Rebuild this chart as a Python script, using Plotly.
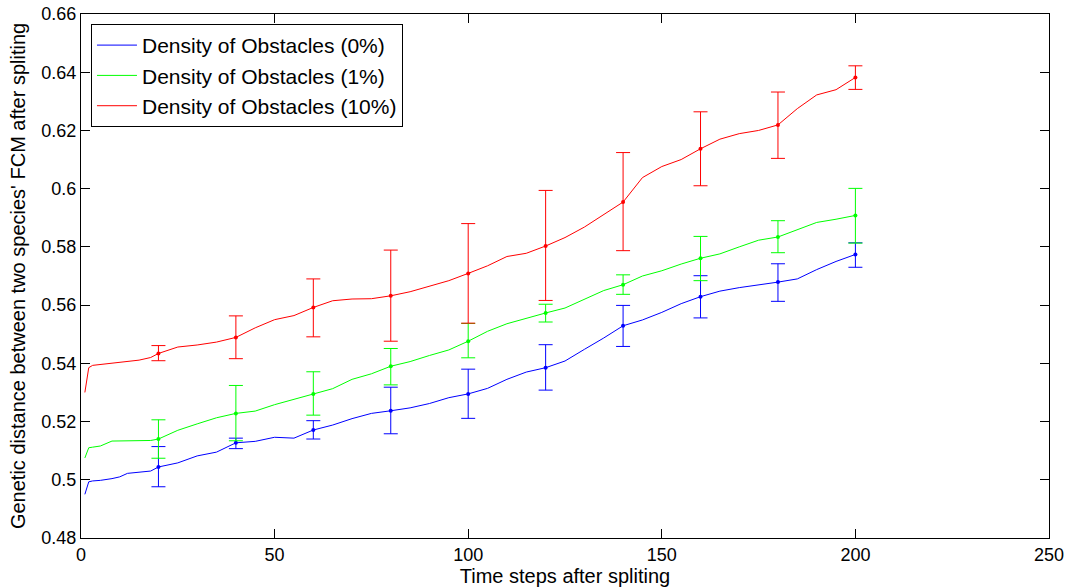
import plotly.graph_objects as go

# Time steps at which the mean genetic distance is sampled
steps = [1, 2, 3, 5, 8, 10, 12, 15, 18, 20, 25, 30, 35, 40, 45, 50, 55, 60, 65, 70,
         75, 80, 85, 90, 95, 100, 105, 110, 115, 120, 125, 130, 135, 140, 145, 150,
         155, 160, 165, 170, 175, 180, 185, 190, 195, 200]

dist_0 = [0.4950, 0.4993, 0.4996, 0.4998, 0.5004, 0.5010, 0.5022, 0.5025, 0.5030, 0.5044,
          0.5058, 0.5082, 0.5095, 0.5127, 0.5132, 0.5146, 0.5143, 0.5171, 0.5188, 0.5210,
          0.5228, 0.5237, 0.5247, 0.5262, 0.5282, 0.5295, 0.5314, 0.5345, 0.5370, 0.5385,
          0.5408, 0.5448, 0.5487, 0.5529, 0.5549, 0.5575, 0.5605, 0.5629, 0.5648, 0.5660,
          0.5669, 0.5679, 0.5690, 0.5722, 0.5750, 0.5774]

dist_1 = [0.5075, 0.5110, 0.5112, 0.5116, 0.5133, 0.5133, 0.5133, 0.5134, 0.5135, 0.5140,
          0.5170, 0.5192, 0.5213, 0.5228, 0.5236, 0.5258, 0.5277, 0.5295, 0.5313, 0.5345,
          0.5364, 0.5390, 0.5406, 0.5427, 0.5446, 0.5476, 0.5510, 0.5536, 0.5555, 0.5573,
          0.5590, 0.5620, 0.5650, 0.5670, 0.5700, 0.5718, 0.5741, 0.5761, 0.5776, 0.5800,
          0.5823, 0.5834, 0.5859, 0.5884, 0.5895, 0.5908]

dist_10 = [0.5300, 0.5385, 0.5393, 0.5396, 0.5399, 0.5402, 0.5405, 0.5411, 0.5420, 0.5434,
           0.5456, 0.5463, 0.5473, 0.5489, 0.5522, 0.5550, 0.5564, 0.5592, 0.5615, 0.5621,
           0.5622, 0.5632, 0.5646, 0.5665, 0.5684, 0.5709, 0.5735, 0.5767, 0.5778, 0.5803,
           0.5832, 0.5868, 0.5910, 0.5954, 0.6038, 0.6076, 0.6100, 0.6137, 0.6170, 0.6189,
           0.6200, 0.6219, 0.6275, 0.6322, 0.6340, 0.6382]

# Steps carrying error bars, with the upper and lower bar ends
bar_steps = [20, 40, 60, 80, 100, 120, 140, 160, 180, 200]

upper_0 = [0.5114, 0.5143, 0.5203, 0.5318, 0.5380, 0.5464, 0.5599, 0.5701, 0.5742, 0.5814]
lower_0 = [0.4976, 0.5107, 0.5140, 0.5158, 0.5211, 0.5308, 0.5458, 0.5556, 0.5613, 0.5730]

upper_1 = [0.5206, 0.5324, 0.5371, 0.5451, 0.5537, 0.5603, 0.5704, 0.5836, 0.5890, 0.6001]
lower_1 = [0.5074, 0.5134, 0.5222, 0.5326, 0.5419, 0.5542, 0.5637, 0.5684, 0.5780, 0.5813]

upper_10 = [0.5461, 0.5563, 0.5690, 0.5789, 0.5880, 0.5994, 0.6124, 0.6264, 0.6332, 0.6422]
lower_10 = [0.5409, 0.5416, 0.5491, 0.5476, 0.5538, 0.5616, 0.5787, 0.6010, 0.6104, 0.6341]

series = [
    ("Density of Obstacles (0%)", "#0000FF", dist_0, upper_0, lower_0),
    ("Density of Obstacles (1%)", "#00FF00", dist_1, upper_1, lower_1),
    ("Density of Obstacles (10%)", "#FF0000", dist_10, upper_10, lower_10),
]

FONT = "Liberation Sans, Arial, sans-serif"

fig = go.Figure()

for name, color, values, upper, lower in series:
    fig.add_trace(go.Scatter(
        x=steps, y=values, mode="lines", name=name,
        line=dict(color=color, width=1),
    ))
    lookup = dict(zip(steps, values))
    means = [lookup[s] for s in bar_steps]
    fig.add_trace(go.Scatter(
        x=bar_steps, y=means, mode="markers", showlegend=False,
        marker=dict(color=color, size=4),
        error_y=dict(
            type="data", symmetric=False,
            array=[u - m for u, m in zip(upper, means)],
            arrayminus=[m - l for m, l in zip(means, lower)],
            color=color, thickness=1, width=7,
        ),
    ))

axis_common = dict(
    showline=True, linecolor="#000000", linewidth=1, mirror="ticks",
    ticks="inside", ticklen=9, tickcolor="#000000",
    showgrid=False, zeroline=False, automargin=False,
    tickfont=dict(family=FONT, size=18, color="#000000"),
)

fig.update_layout(
    width=1073, height=588,
    margin=dict(l=81, r=24, t=14, b=50),
    paper_bgcolor="#FFFFFF", plot_bgcolor="#FFFFFF",
    font=dict(family=FONT, color="#000000"),
    xaxis=dict(
        range=[0, 250], tickvals=[0, 50, 100, 150, 200, 250],
        title=dict(text="Time steps after spliting", font=dict(family=FONT, size=20), standoff=0),
        **axis_common,
    ),
    yaxis=dict(
        range=[0.48, 0.66],
        tickvals=[0.48, 0.5, 0.52, 0.54, 0.56, 0.58, 0.6, 0.62, 0.64, 0.66],
        ticktext=["0.48", "0.5", "0.52", "0.54", "0.56", "0.58", "0.6", "0.62", "0.64", "0.66"],
        **axis_common,
    ),
    annotations=[dict(
        text="Genetic distance between two species' FCM after spliting",
        xref="paper", yref="paper", x=-0.065, y=0.5,
        xanchor="center", yanchor="middle", textangle=-90, showarrow=False,
        font=dict(family=FONT, size=20, color="#000000"),
    )],
    legend=dict(
        x=0.0103, y=0.981, xanchor="left", yanchor="top",
        bgcolor="#FFFFFF", bordercolor="#000000", borderwidth=1,
        font=dict(family=FONT, size=21, color="#000000"),
        tracegroupgap=0, itemwidth=40,
    ),
    showlegend=True,
)

fig.write_html("out.html")
